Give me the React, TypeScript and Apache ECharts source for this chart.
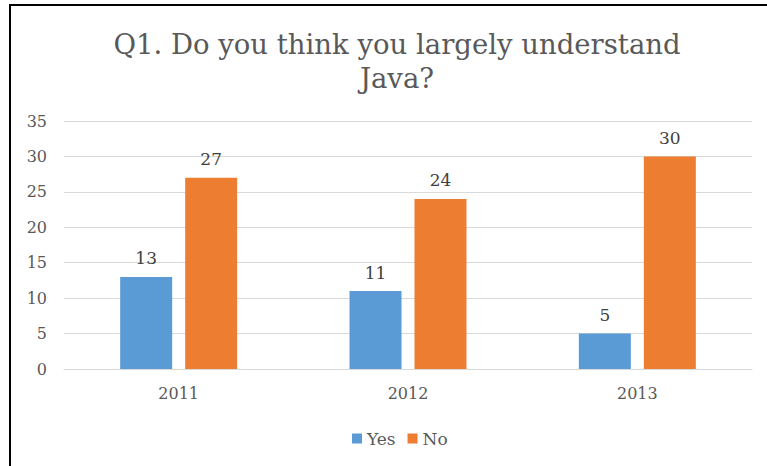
import React, { useEffect, useRef } from "react";
import * as echarts from "echarts";

const categories = ["2011", "2012", "2013"];
const yesValues = [13, 11, 5];
const noValues = [27, 24, 30];
const seriesNames = ["Yes", "No"];
const titleText = "Q1. Do you think you largely understand\nJava?";

const FONT = "DejaVu Serif";
const GREY = "#595959";

export default function App() {
  const ref = useRef<HTMLDivElement>(null);
  useEffect(() => {
    const chart = echarts.init(ref.current!, null, { renderer: "svg" });
    chart.setOption({
      animation: false,
      backgroundColor: "#ffffff",
      title: {
        text: titleText,
        left: 392,
        textAlign: "center",
        top: 22,
        textStyle: { fontFamily: FONT, fontSize: 27.5, fontWeight: "normal", color: GREY, lineHeight: 34 },
      },
      legend: {
        data: seriesNames,
        left: 347,
        top: 425,
        itemWidth: 10,
        itemHeight: 10,
        itemGap: 12,
        icon: "rect",
        textStyle: { fontFamily: FONT, fontSize: 17, color: GREY },
      },
      grid: { left: 64, right: 15, top: 121, bottom: 97, containLabel: false },
      xAxis: {
        type: "category",
        data: categories,
        axisLine: { lineStyle: { color: "#d9d9d9" } },
        axisTick: { show: false },
        axisLabel: { fontFamily: FONT, fontSize: 16, color: GREY, margin: 16 },
      },
      yAxis: {
        type: "value",
        min: 0,
        max: 35,
        interval: 5,
        axisLine: { show: false },
        axisTick: { show: false },
        splitLine: { lineStyle: { color: "#d9d9d9" } },
        axisLabel: { fontFamily: FONT, fontSize: 16, color: GREY, margin: 17 },
      },
      series: [
        {
          name: seriesNames[0],
          type: "bar",
          data: yesValues,
          barWidth: 52,
          barGap: "25%",
          itemStyle: { color: "#5B9BD5" },
          label: { show: true, position: "top", distance: 10, fontFamily: FONT, fontSize: 17, color: "#404040" },
        },
        {
          name: seriesNames[1],
          type: "bar",
          data: noValues,
          barWidth: 52,
          barGap: "25%",
          itemStyle: { color: "#ED7D31" },
          label: { show: true, position: "top", distance: 10, fontFamily: FONT, fontSize: 17, color: "#404040" },
        },
      ],
      graphic: [
        { type: "rect", shape: { x: 9, y: 4, width: 2, height: 470 }, style: { fill: "#000" }, silent: true },
        { type: "rect", shape: { x: 9, y: 4, width: 770, height: 2 }, style: { fill: "#000" }, silent: true },
      ],
    });
    return () => chart.dispose();
  }, []);
  return (
    <div style={{ position: "fixed", left: 0, top: 0, width: 767, height: 466 }}>
      <div ref={ref} style={{ width: 767, height: 466 }} />
    </div>
  );
}
